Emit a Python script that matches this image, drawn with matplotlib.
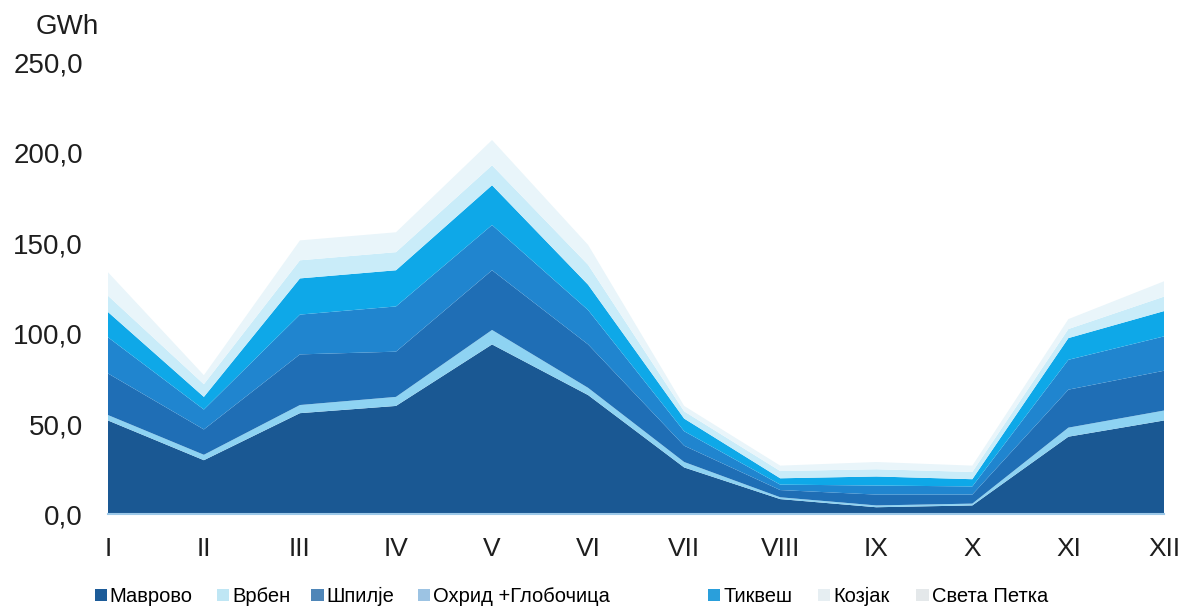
import numpy as np
import matplotlib
matplotlib.use("Agg")
import matplotlib.pyplot as plt
from matplotlib.patches import Patch
from matplotlib.ticker import FuncFormatter

plt.rcParams['font.family'] = ['Liberation Sans', 'DejaVu Sans']

months = ['I', 'II', 'III', 'IV', 'V', 'VI', 'VII', 'VIII', 'IX', 'X', 'XI', 'XII']

# GWh per plant (stacked bottom -> top)
mavrovo = [52, 30, 56, 60, 94, 66, 26, 8.5, 4, 5, 43, 52]
vrben = [3, 3, 4.5, 5, 8, 4, 3, 1, 1, 1, 5, 5.5]
spilje = [23, 14, 28, 25, 33, 24, 9, 4, 6, 5, 21, 22]
ohrid = [20, 11, 22, 25, 25, 19, 8, 3, 5, 4.5, 16.5, 19]
tikves = [14, 7, 20, 20, 22, 14, 7, 3.5, 5, 4, 12, 14]
kozjak = [9, 7, 10, 10, 11, 11, 4, 4, 4, 4, 5, 8]
sveta_petka = [13, 5, 11, 11, 14, 11, 3, 3, 4, 3.5, 5.5, 8.5]

names = ['Маврово', 'Врбен', 'Шпилје', 'Охрид +Глобочица', 'Тиквеш', 'Козјак', 'Света Петка']
colors = ['#1a5893', '#8ed3f2', '#1f6eb5', '#2085cf', '#0ea8e8', '#c9ecf9', '#e9f5fa']
legend_colors = ['#1d5c99', '#bfe6f4', '#4f86b8', '#9cc3e3', '#2a9fdb', '#e6eef2', '#e4e8ea']
# left edge of each legend entry, figure fraction
legend_x = [0.079, 0.181, 0.260, 0.349, 0.591, 0.683, 0.765]

series = [mavrovo, vrben, spilje, ohrid, tikves, kozjak, sveta_petka]
x = np.arange(len(months))

fig = plt.figure(figsize=(11.98, 6.10), dpi=100)
ax = fig.add_axes([0.09, 0.1566, 0.882, 0.7414])

ax.stackplot(x, *series, colors=colors, linewidth=0)

ax.set_xlim(0, 11)
ax.set_ylim(0, 250)
ax.set_yticks(np.arange(0, 251, 50))
ax.yaxis.set_major_formatter(FuncFormatter(lambda v, p: f"{v:.1f}".replace('.', ',')))
ax.set_xticks(x)
ax.set_xticklabels(months)
ax.tick_params(axis='y', length=0, pad=18, labelsize=20, labelcolor='#1e1e1e')
ax.tick_params(axis='x', length=0, pad=16, labelsize=19, labelcolor='#1e1e1e')

for s in ['top', 'right', 'left']:
    ax.spines[s].set_visible(False)
ax.spines['bottom'].set_color('#9cc8e8')
ax.spines['bottom'].set_linewidth(1.5)

fig.text(0.03, 0.955, 'GWh', fontsize=20, color='#1e1e1e', va='center')

for name, c, lx in zip(names, legend_colors, legend_x):
    fig.legend([Patch(facecolor=c, edgecolor='none')], [name], loc='center left',
               bbox_to_anchor=(lx, 0.022), frameon=False, fontsize=14.5,
               handlelength=0.6, handleheight=0.6, handletextpad=0.15,
               borderpad=0, borderaxespad=0)

fig.savefig('out.png', dpi=100)
